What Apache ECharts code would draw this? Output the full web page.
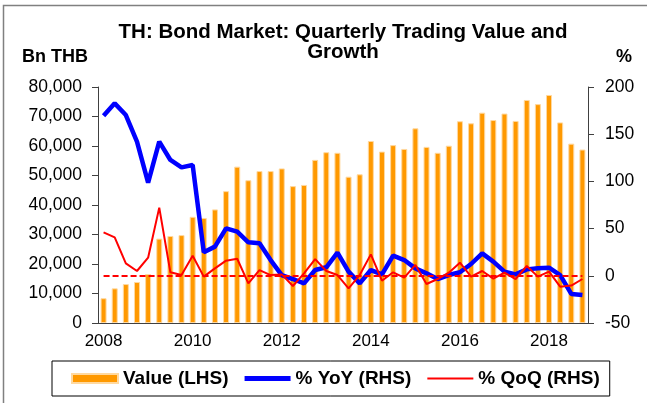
<!DOCTYPE html>
<html>
<head>
<meta charset="utf-8">
<script src="https://cdn.jsdelivr.net/npm/echarts@6/dist/echarts.min.js"></script>
<style>
  html, body { margin: 0; padding: 0; background: #fff; }
  #chart { width: 647px; height: 403px; }
</style>
</head>
<body>
<div id="chart"></div>
<script>
// quarterly categories 2008Q1 .. 2018Q4
const years = [2008, 2009, 2010, 2011, 2012, 2013, 2014, 2015, 2016, 2017, 2018];
const quarters = ["Q1", "Q2", "Q3", "Q4"];
const categories = [];
years.forEach(y => quarters.forEach(q => categories.push(y + q)));

// trading value, Bn THB (LHS)
const tradingValue = [8400, 11750, 13200, 13900, 16600, 28600, 29500, 29800,
  36000, 35600, 38500, 44700, 53000, 48400, 51500, 51500, 52400, 46400, 46800, 55300,
  57900, 57700, 49600, 50400, 61700, 58100, 60300, 59000, 66000, 59700, 57700, 60100,
  68400, 67700, 71300, 68800, 71000, 68500, 75600, 74200, 77300, 68000, 60800, 58800];

// % YoY (RHS)
const yoyGrowth = [169.6, 182.7, 170.3, 142.1, 98.7, 142.1, 122.7, 114.9,
  117.4, 24.9, 30.9, 50.3, 46.7, 35.5, 34.4, 16.7, 0.8, -3.4, -8.0, 6.1,
  9.0, 24.5, 4.4, -8.0, 6.1, 1.5, 21.3, 16.7, 7.9, 2.6, -3.4, 0.8,
  3.7, 12.5, 23.8, 15.0, 4.4, 1.5, 6.8, 7.9, 8.6, 0.8, -19.2, -20.3];

// % QoQ (RHS)
const qoqGrowth = [46.0, 40.7, 13.2, 5.1, 19.2, 72.2, 3.7, 0.8,
  21.3, -0.9, 7.9, 16.0, 18.1, -8.0, 6.1, 0.8, 1.5, -10.8, 2.6, 17.7,
  5.1, 0.8, -13.3, 0.8, 22.7, -5.2, 3.7, -1.9, 11.5, -8.7, -3.4, 3.3,
  13.9, -0.9, 5.1, -3.0, 3.3, -3.4, 10.4, -0.9, 4.4, -11.5, -10.4, -3.4];

const font = "Liberation Sans, Arial, sans-serif";
const axisColor = "#404040";

let myChart = echarts.init(document.getElementById("chart"));
myChart.setOption({
  animation: false,
  textStyle: { fontFamily: font },
  title: {
    text: "TH: Bond Market: Quarterly Trading Value and\nGrowth",
    left: 338,
    top: 17,
    textAlign: "center",
    textStyle: { fontSize: 20.5, fontWeight: "bold", color: "#000", lineHeight: 20, fontFamily: font }
  },
  graphic: [
    {
      type: "rect",
      silent: true,
      shape: { x: 3.5, y: 5.5, width: 700, height: 500 },
      style: { fill: "none", stroke: "#808080", lineWidth: 1.5 }
    },
    {
      type: "text",
      left: 22, top: 48,
      style: { text: "Bn THB", font: "bold 18px " + font, fill: "#000" }
    },
    {
      type: "text",
      left: 616, top: 48,
      style: { text: "%", font: "bold 18px " + font, fill: "#000" }
    }
  ],
  legend: {
    left: 52,
    top: 361,
    padding: [8, 10, 8, 19],
    borderColor: "#000",
    borderWidth: 1,
    itemGap: 16,
    itemWidth: 46,
    itemHeight: 9,
    textStyle: { fontSize: 19, fontWeight: "bold", color: "#000", fontFamily: font },
    data: [
      { name: "Value (LHS)", icon: "rect" },
      { name: "% YoY (RHS)", icon: "path://M0,0h46v5h-46z", itemStyle: { color: "#0000FF" } },
      { name: "% QoQ (RHS)", icon: "path://M0,0h46v2h-46z", itemStyle: { color: "#FF0000" } }
    ]
  },
  grid: {
    left: 98,
    right: 59,
    top: 87,
    bottom: 80
  },
  xAxis: {
    type: "category",
    data: categories,
    boundaryGap: true,
    axisLine: { lineStyle: { color: axisColor, width: 1 } },
    axisTick: { interval: 3, length: 5, lineStyle: { color: axisColor } },
    axisLabel: {
      interval: 7,
      margin: 10,
      fontSize: 17,
      color: "#000",
      formatter: v => v.slice(0, 4)
    },
    splitLine: { show: false }
  },
  yAxis: [
    {
      type: "value",
      min: 0,
      max: 80000,
      interval: 10000,
      axisLine: { show: true, lineStyle: { color: axisColor } },
      axisTick: { show: true, length: 6, lineStyle: { color: axisColor } },
      axisLabel: {
        margin: 16,
        fontSize: 17.5,
        color: "#000",
        formatter: v => v.toLocaleString("en-US")
      },
      splitLine: { show: false }
    },
    {
      type: "value",
      min: -50,
      max: 200,
      interval: 50,
      axisLine: { show: true, lineStyle: { color: axisColor } },
      axisTick: { show: true, length: 6, lineStyle: { color: axisColor } },
      axisLabel: { margin: 17, fontSize: 17.5, color: "#000" },
      splitLine: { show: false }
    }
  ],
  series: [
    {
      name: "Value (LHS)",
      type: "bar",
      yAxisIndex: 0,
      barWidth: 6,
      data: tradingValue,
      itemStyle: { color: "#FF9900", borderColor: "#FFD9A0", borderWidth: 1 }
    },
    {
      name: "% YoY (RHS)",
      type: "line",
      yAxisIndex: 1,
      data: yoyGrowth,
      symbol: "none",
      lineStyle: { color: "#0000FF", width: 4.5 },
      itemStyle: { color: "#0000FF" },
      z: 4
    },
    {
      name: "% QoQ (RHS)",
      type: "line",
      yAxisIndex: 1,
      data: qoqGrowth,
      symbol: "none",
      lineStyle: { color: "#FF0000", width: 2 },
      itemStyle: { color: "#FF0000" },
      z: 5,
      markLine: {
        silent: true,
        symbol: "none",
        label: { show: false },
        lineStyle: { color: "#FF0000", width: 2, type: [6, 3] },
        data: [[
          { coord: [categories[0], 0] },
          { coord: [categories[categories.length - 1], 0] }
        ]]
      }
    }
  ]
});
</script>
</body>
</html>
